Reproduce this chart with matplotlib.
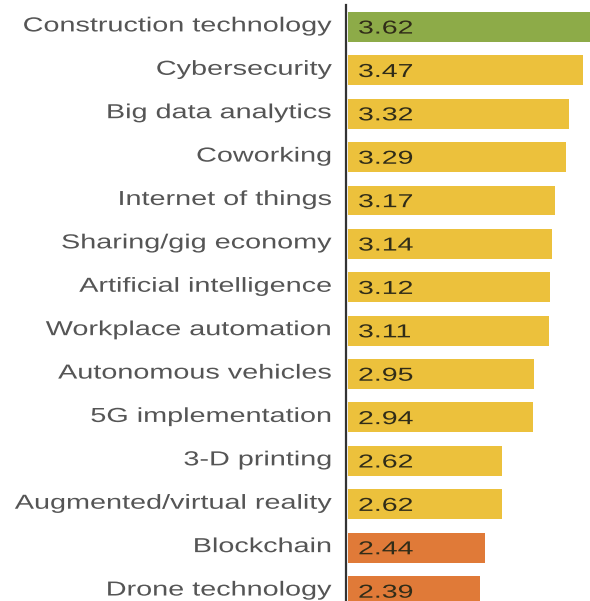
import matplotlib
matplotlib.use("Agg")
import matplotlib.pyplot as plt
from matplotlib.patheffects import AbstractPathEffect
from matplotlib.transforms import Affine2D, ScaledTranslation

categories = ["Construction technology", "Cybersecurity", "Big data analytics", "Coworking",
              "Internet of things", "Sharing/gig economy", "Artificial intelligence",
              "Workplace automation", "Autonomous vehicles", "5G implementation",
              "3-D printing", "Augmented/virtual reality", "Blockchain", "Drone technology"]
values = [3.62, 3.47, 3.32, 3.29, 3.17, 3.14, 3.12, 3.11, 2.95, 2.94, 2.62, 2.62, 2.44, 2.39]
tiers = ["high"] + ["mid"] * 11 + ["low"] * 2
tier_colors = {"high": "#8dab48", "mid": "#ecc13c", "low": "#e07a38"}


class Stretch(AbstractPathEffect):
    """Stretch text horizontally about its left or right edge."""
    def __init__(self, sx, anchor="left"):
        super().__init__()
        self.sx = sx
        self.anchor = anchor

    def draw_path(self, renderer, gc, tpath, affine, rgbFace=None):
        if self.anchor == "right":
            w = tpath.get_extents().x1
            pre = Affine2D().translate(-w, 0).scale(self.sx, 1).translate(w, 0)
        else:
            pre = Affine2D().scale(self.sx, 1)
        renderer.draw_path(gc, tpath, pre + affine, rgbFace)


fig = plt.figure(figsize=(5.90, 6.01), dpi=100)
ax = fig.add_axes([348 / 590, 0, 1 - 348 / 590, 1])

for s in ["top", "right", "bottom"]:
    ax.spines[s].set_visible(False)
ax.spines["left"].set_position(("data", 0.98))
ax.spines["left"].set_color("#333333")
ax.spines["left"].set_linewidth(1.6)

y = list(range(len(categories)))
ax.barh(y, [v - 1.0 for v in values], left=1.0, height=0.69,
        color=[tier_colors[t] for t in tiers], zorder=2)

ax.set_xlim(1.0, 3.54)
ax.set_ylim(13.23, -0.62)
ax.spines["left"].set_bounds(13.23, -0.51)

for yi, v in zip(y, values):
    ax.text(1.105, yi + 0.05, f"{v:.2f}", ha="left", va="center",
            fontsize=13.5, family="Liberation Sans", color="#302c18",
            path_effects=[Stretch(1.52, "left")], zorder=3)

ax.set_xticks([])
ax.tick_params(axis="y", length=0, pad=10.5)
ax.set_yticks(y)
ax.set_yticklabels(categories, fontsize=14.6, family="Liberation Sans", color="#555555")
shift = ScaledTranslation(0, 3 / 100, fig.dpi_scale_trans)
for lab in ax.get_yticklabels():
    lab.set_path_effects([Stretch(1.42, "right")])
    lab.set_transform(lab.get_transform() + shift)

fig.savefig("out.png", dpi=100)
